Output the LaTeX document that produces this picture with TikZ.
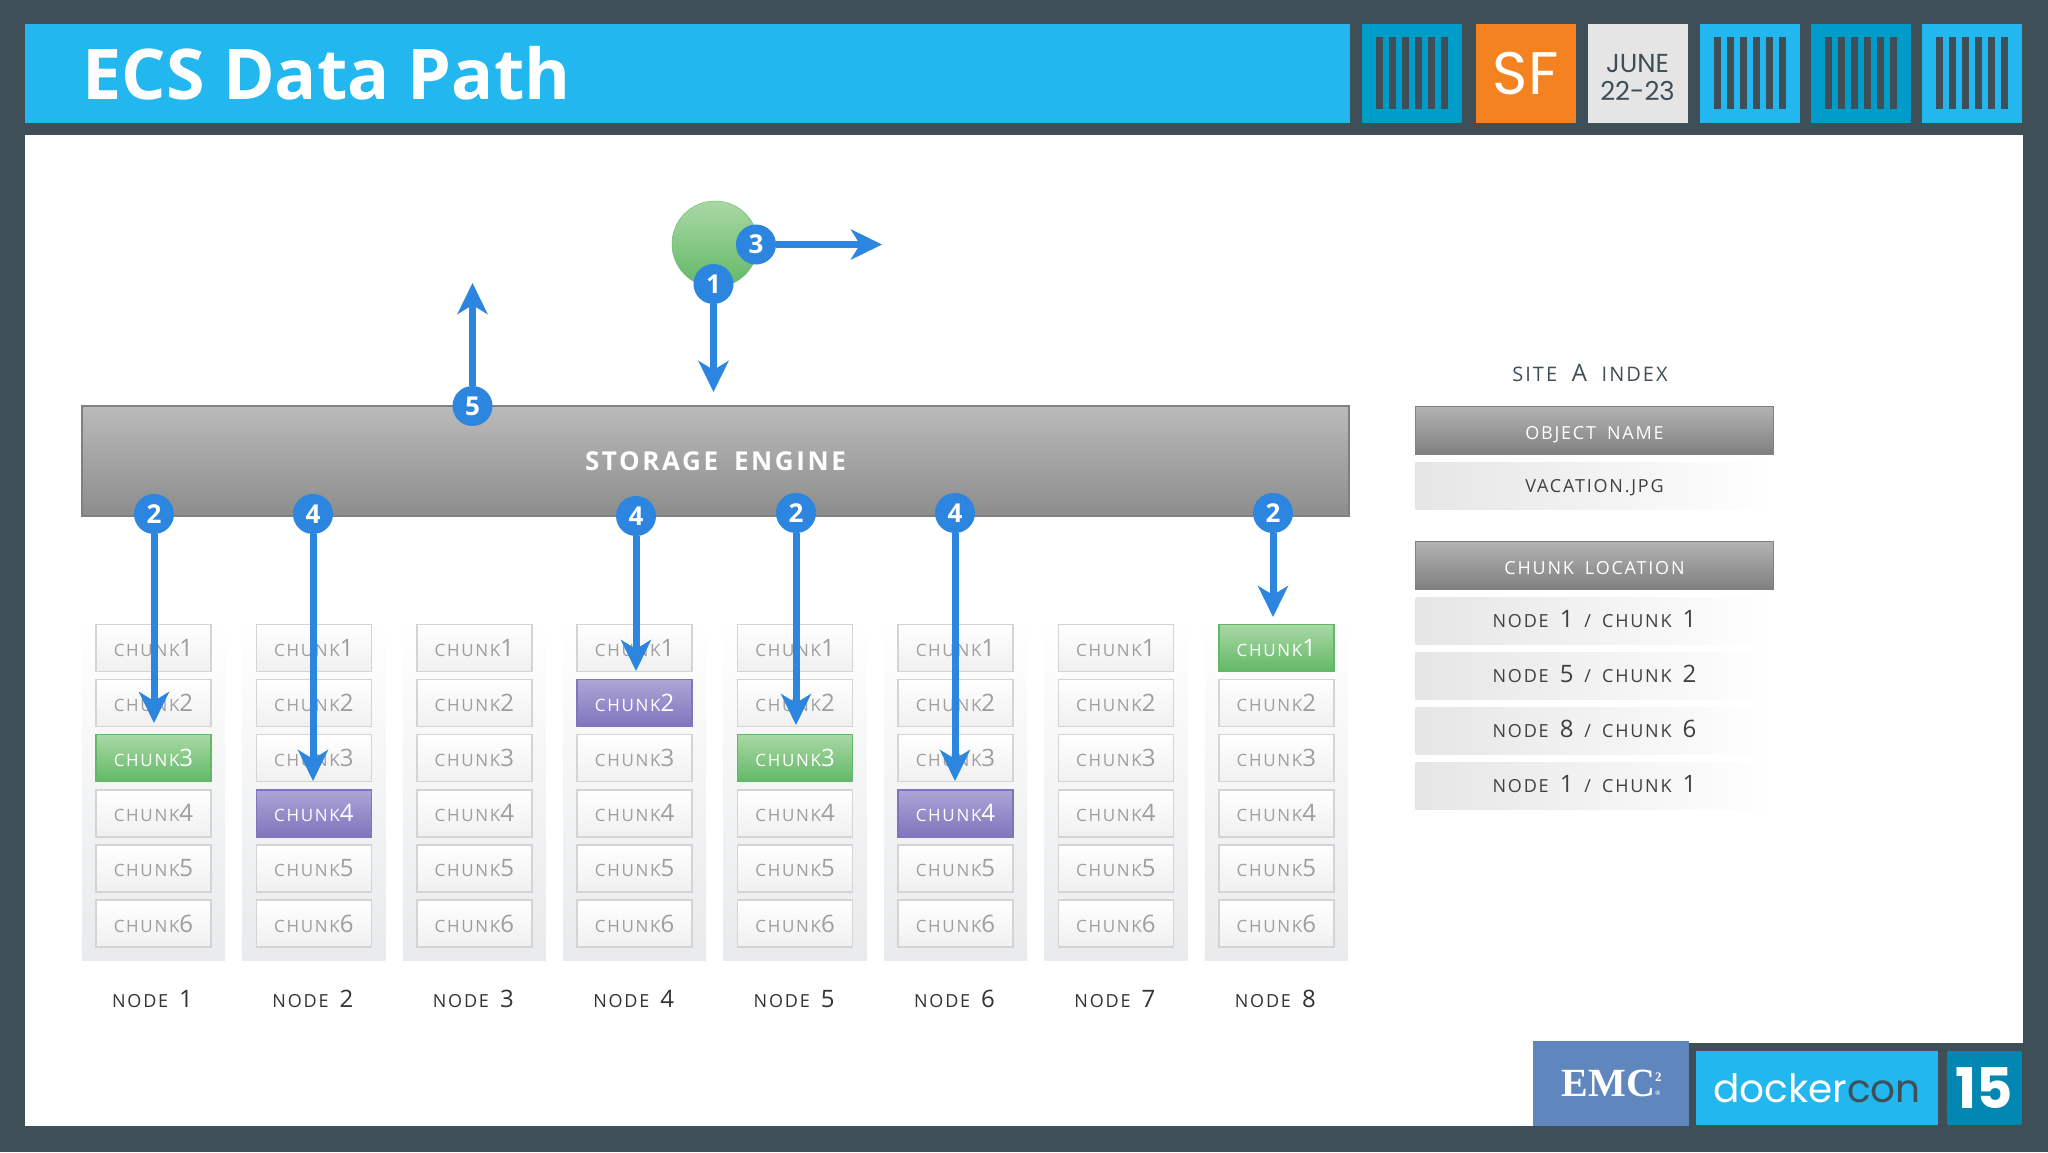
\documentclass[tikz,border=0pt]{standalone}
\usepackage{fontspec}
\usetikzlibrary{arrows.meta}
\setmainfont{Open Sans}
\newfontfamily\lblfont[LetterSpace=10,WordSpace=1.7]{Open Sans}
\newfontfamily\popfont{Poppins}
\newfontfamily\emcfont{Liberation Serif}
\definecolor{slate}{HTML}{3F4F57}
\definecolor{skyblue}{HTML}{22B7EE}
\definecolor{deepblue}{HTML}{009CC9}
\definecolor{yearblue}{HTML}{0286B2}
\definecolor{emcblue}{HTML}{5F87BD}
\definecolor{sforange}{HTML}{F58220}
\definecolor{badgeblue}{HTML}{2C85DE}
\definecolor{greentop}{HTML}{A9D8A4}
\definecolor{greenlow}{HTML}{62B867}
\definecolor{purpletop}{HTML}{ADA5D6}
\definecolor{purplelow}{HTML}{7F75BD}
\definecolor{backlow}{HTML}{E8EAEB}
\newcommand{\fs}[1]{\fontsize{#1}{#1}\selectfont}
\newcommand{\dg}[1]{{\fs{24}#1}}
\tikzset{
  tile/.style={minimum width=100pt,minimum height=99pt,inner sep=0pt},
  chunkplain/.style={draw=black!17,line width=1.5pt,top color=white,bottom color=black!6,text=black!38,
    minimum width=115pt,minimum height=47pt,inner sep=0pt,font=\lblfont\fs{17}},
  chunkgreen/.style={chunkplain,draw=greenlow,top color=greentop,bottom color=greenlow,text=white},
  chunkpurple/.style={chunkplain,draw=purplelow,top color=purpletop,bottom color=purplelow,text=white},
  backdrop/.style={minimum width=143pt,minimum height=340pt,inner sep=0pt,top color=white,bottom color=backlow},
  badge/.style={circle,fill=badgeblue,text=white,minimum size=40pt,inner sep=0pt,font=\bfseries\fs{26}},
  flow/.style={->,draw=badgeblue,fill=badgeblue,line width=7pt},
  headbar/.style={draw=black!50,line width=1pt,top color=black!30,bottom color=black!50,text=white,
    minimum width=358pt,minimum height=48pt,inner sep=0pt,text height=18pt,text depth=0pt,font=\lblfont\fs{18}},
  fadebar/.style={left color=black!10,right color=white,text=black!75,
    minimum width=358pt,minimum height=47pt,inner sep=0pt,text height=16pt,text depth=2pt,font=\lblfont\fs{18}},
}
\begin{document}
\begin{tikzpicture}[x=1pt,y=-1pt,>={Stealth[length=31pt,width=30pt,inset=9pt]}]
\useasboundingbox (0,0) rectangle (2048,1152);
\fill[slate] (0,0) rectangle (2048,1152);
\fill[white] (25,135) rectangle (2023,1126);
\fill[slate] (1689,1043) rectangle (2023,1126);
% header
\node[fill=skyblue,minimum width=1325pt,minimum height=99pt,inner sep=0pt] (banner) at (687.5,73.5) {};
\node[text=white,font=\bfseries\fs{70},anchor=west] (title) at (79,73) {ECS Data Path};
\foreach \x/\c in {1412/deepblue,1750/skyblue,1860.5/deepblue,1971.5/skyblue}{
  \node[tile,fill=\c] at (\x,73.5) {};
  \foreach \k in {0,...,5} \fill[slate] (\x-36+13*\k,37) rectangle +(7,72);
}
\node[tile,fill=sforange,text=white,font=\popfont\fs{60}] (sf) at (1525.5,73.5) {SF};
\node[tile,fill=black!10] (datetile) at (1637.5,73.5) {};
\node[text=slate,align=center,font=\popfont\fs{26}] (date) at (1637.5,77) {JUNE\\[2pt]22-23};
% storage engine
\node[draw=black!50,line width=1.5pt,top color=black!27,bottom color=black!45,text=white,
  minimum width=1267pt,minimum height=110pt,inner sep=0pt,font=\lblfont\bfseries\fs{26}] (engine) at (715.5,461) {STORAGE ENGINE};
% nodes and chunks
\foreach \i/\hi/\hs in {1/3/chunkgreen,2/4/chunkpurple,3/0/chunkplain,4/2/chunkpurple,5/3/chunkgreen,6/4/chunkpurple,7/0/chunkplain,8/1/chunkgreen}{
  \pgfmathsetmacro\cx{153.5+160.4*(\i-1)}
  \node[backdrop] (back\i) at (\cx,790) {};
  \foreach \k in {1,...,6}{
    \ifnum\k=\hi \def\st{\hs}\else\def\st{chunkplain}\fi
    \node[\st] (c\i\k) at (\cx,648+55.1*\k-55.1) {CHUNK\dg{\k}};
  }
  \node[text=black!80,font=\lblfont\fs{18}] (lab\i) at (\cx-1,999) {NODE \dg{\i}};
}
% green object
\node[circle,draw=greenlow,top color=greentop,bottom color=greenlow,minimum size=86pt,inner sep=0pt] (object) at (715,244) {};
% steps
\coordinate (t1) at (713.5,392);
\coordinate (t3) at (882,244.5);
\coordinate (t5) at (472.5,283);
\coordinate (ta) at (154,723);
\coordinate (tb) at (313,781);
\coordinate (tc) at (636,671);
\coordinate (td) at (796,725);
\coordinate (te) at (955,781);
\coordinate (tf) at (1273,617);
\foreach \n/\t/\bx/\by/\tg in {1/1/713.5/284/t1,3/3/756/244.5/t3,5/5/472.5/406/t5,a/2/154/514/ta,b/4/313/514/tb,c/4/636/516/tc,d/2/796/513/td,e/4/955/513/te,f/2/1273/513/tf}{
  \node[badge] (s\n) at (\bx,\by) {\t};
  \draw[flow] (s\n) -- (\tg);
}
% index
\node[text=slate,font=\lblfont\fs{24}] (sitehead) at (1590,373) {{\fs{20}SITE} A {\fs{20}INDEX}};
\node[headbar] (objname) at (1594.5,430.5) {OBJECT NAME};
\node[fadebar] (objval) at (1594.5,485.5) {VACATION.JPG};
\node[headbar] (loc) at (1594.5,565.5) {CHUNK LOCATION};
\foreach \y/\a/\b in {620.5/1/1,675.5/5/2,730.5/8/6,785.5/1/1}
  \node[fadebar] at (1594.5,\y) {NODE \dg{\a} / CHUNK \dg{\b}};
% footer
\node[fill=emcblue,minimum width=156pt,minimum height=85pt,inner sep=0pt,text=white,font=\emcfont\bfseries\fs{40}] (emc) at (1611,1083.5) {EMC\rlap{\raisebox{15pt}{\fs{13}2}}\raisebox{1pt}{\fs{7}®}};
\node[fill=skyblue,minimum width=242pt,minimum height=74pt,inner sep=0pt,text=white,font=\popfont\fs{39}] (docker) at (1817,1088) {docker\textcolor{slate}{con}};
\node[fill=yearblue,minimum width=75pt,minimum height=74pt,inner sep=0pt,text=white,font=\popfont\bfseries\fs{56}] (year) at (1984.5,1088) {15};
\end{tikzpicture}
\end{document}
